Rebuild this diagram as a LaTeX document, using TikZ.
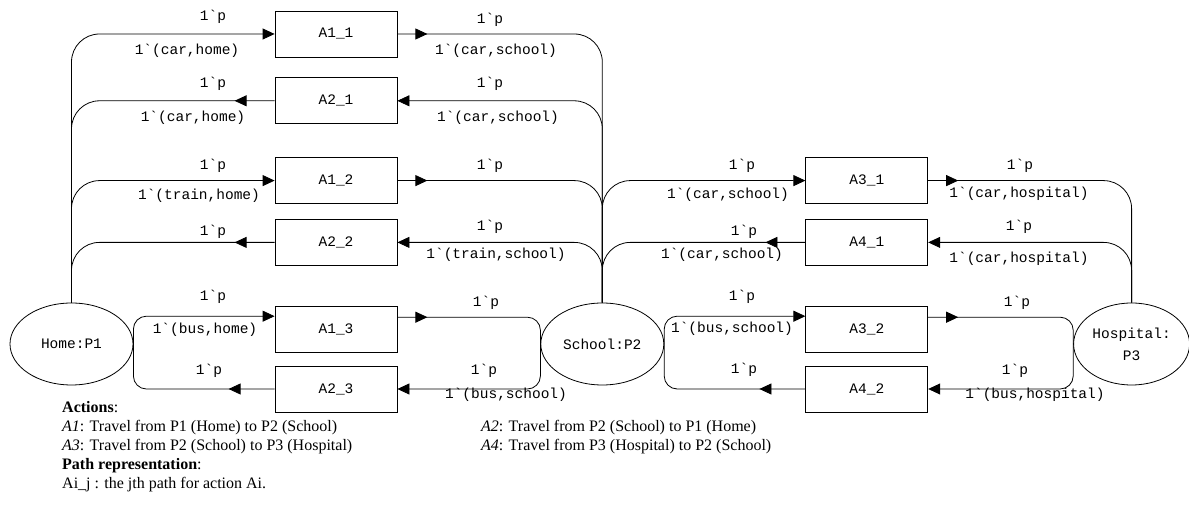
\documentclass[tikz,border=0pt]{standalone}
\usepackage{fontspec}
\setmainfont{Liberation Serif}
\setmonofont{Liberation Mono}
\usepackage{tikz}
\usetikzlibrary{arrows.meta,positioning,shapes.geometric,calc,decorations.markings}

\begin{document}
\begin{tikzpicture}[x=1pt, y=1pt,
  trans/.style={rectangle, draw, line width=0.8pt, minimum width=122pt, minimum height=46pt, font=\ttfamily\fontsize{14.5}{16}\selectfont},
  place/.style={ellipse, draw, line width=0.8pt, minimum width=123pt, minimum height=82pt, inner sep=0pt, align=center, font=\ttfamily\fontsize{14.5}{22}\selectfont},
  lbl/.style={inner sep=0pt, font=\ttfamily\fontsize{14.5}{16}\selectfont},
  arc/.style={line width=0.8pt, rounded corners=28pt, -{Triangle[length=12pt, width=11pt]}},
  outarc/.style={line width=0.8pt, rounded corners=28pt, postaction={decorate},
    decoration={markings, mark=at position #1 with {\arrow{Triangle[length=12pt, width=11pt]}}}},
  outarc/.default=30pt
]
\useasboundingbox (0,0) rectangle (1189,516);

% places
\node[place] (home) at (71.5,172) {Home:P1};
\node[place, right=407pt of home] (school) {School:P2};
\node[place, minimum width=116pt, right=409pt of school] (hosp) {Hospital:\\P3};

% transitions
\node[trans] (a11) at (336,482) {A1\_1};
\node[trans, below=20pt of a11] (a21) {A2\_1};
\node[trans, below=33pt of a21] (a12) {A1\_2};
\node[trans, below=15pt of a12] (a22) {A2\_2};
\node[trans, below=40pt of a22] (a13) {A1\_3};
\node[trans, below=13pt of a13] (a23) {A2\_3};
\node[trans, right=408pt of a12] (a31) {A3\_1};
\node[trans, right=408pt of a22] (a41) {A4\_1};
\node[trans, right=408pt of a13] (a32) {A3\_2};
\node[trans, right=408pt of a23] (a42) {A4\_2};

% home <-> school
\draw[arc] (home.north) |- (a11.west);
\draw[outarc] (a11.east) -| (school.north);
\draw[arc] (school.north) |- (a21.east);
\draw[outarc=40pt] (a21.west) -| (home.north);
\draw[arc] (home.north) |- (a12.west);
\draw[outarc] (a12.east) -| (school.north);
\draw[arc] (school.north) |- (a22.east);
\draw[outarc=40pt] (a22.west) -| (home.north);
\draw[arc, rounded corners=13pt] (home.east) |- ($(a13.west)+(0,13)$);
\draw[outarc, rounded corners=13pt] ($(a13.east)+(0,12)$) -| (school.west);
\draw[arc, rounded corners=13pt] (school.west) |- (a23.east);
\draw[outarc=46pt, rounded corners=13pt] (a23.west) -| (home.east);

% school <-> hospital
\draw[arc] (school.north) |- (a31.west);
\draw[outarc] (a31.east) -| (hosp.north);
\draw[arc] (hosp.north) |- (a41.east);
\draw[outarc=40pt] (a41.west) -| (school.north);
\draw[arc, rounded corners=13pt] (school.east) |- ($(a32.west)+(0,13)$);
\draw[outarc, rounded corners=13pt] ($(a32.east)+(0,12)$) -| (hosp.west);
\draw[arc, rounded corners=13pt] (hosp.west) |- (a42.east);
\draw[outarc=46pt, rounded corners=13pt] (a42.west) -| (school.east);

% arc inscriptions
\node[lbl] (i11a) at (213,499) {1`p};
\node[lbl] (i11b) at (187,465) {1`(car,home)};
\node[lbl] (i11c) at (490,496) {1`p};
\node[lbl] (i11d) at (496,465) {1`(car,school)};
\node[lbl] (i21a) at (213,432) {1`p};
\node[lbl] (i21b) at (193,398) {1`(car,home)};
\node[lbl] (i21c) at (490,432) {1`p};
\node[lbl] (i21d) at (498,398) {1`(car,school)};
\node[lbl] (i12a) at (213,350) {1`p};
\node[lbl] (i12b) at (199,320) {1`(train,home)};
\node[lbl] (i12c) at (490,350) {1`p};
\node[lbl] (i22a) at (213,284) {1`p};
\node[lbl] (i22c) at (490,289) {1`p};
\node[lbl] (i22d) at (496,261) {1`(train,school)};
\node[lbl] (i13a) at (213,219) {1`p};
\node[lbl] (i13b) at (205,186) {1`(bus,home)};
\node[lbl] (i13c) at (486,213) {1`p};
\node[lbl] (i23a) at (209,145) {1`p};
\node[lbl] (i23c) at (484,145) {1`p};
\node[lbl] (i23d) at (506,121) {1`(bus,school)};
\node[lbl] (i31a) at (742,350) {1`p};
\node[lbl] (i31b) at (728,321) {1`(car,school)};
\node[lbl] (i31c) at (1020,350) {1`p};
\node[lbl] (i31d) at (1019,322) {1`(car,hospital)};
\node[lbl] (i41a) at (744,284) {1`p};
\node[lbl] (i41b) at (722,261) {1`(car,school)};
\node[lbl] (i41c) at (1019,289) {1`p};
\node[lbl] (i41d) at (1019,257) {1`(car,hospital)};
\node[lbl] (i32a) at (742,219) {1`p};
\node[lbl] (i32b) at (732,187) {1`(bus,school)};
\node[lbl] (i32c) at (1017,213) {1`p};
\node[lbl] (i42a) at (744,146) {1`p};
\node[lbl] (i42c) at (1015,145) {1`p};
\node[lbl] (i42d) at (1035,121) {1`(bus,hospital)};

% legend
\node[anchor=north west, inner sep=0pt, font=\fontsize{16}{19}\selectfont] (legend) at (62,117) {%
  \begin{tabular}{@{}p{419pt}@{}l@{}}
  \textbf{Actions}: & \\
  \textit{A1}: Travel from P1 (Home) to P2 (School) & \textit{A2}: Travel from P2 (School) to P1 (Home)\\
  \textit{A3}: Travel from P2 (School) to P3 (Hospital) & \textit{A4}: Travel from P3 (Hospital) to P2 (School)\\
  \textbf{Path representation}: & \\
  Ai\_j : the jth path for action Ai. &
  \end{tabular}};
\end{tikzpicture}
\end{document}
